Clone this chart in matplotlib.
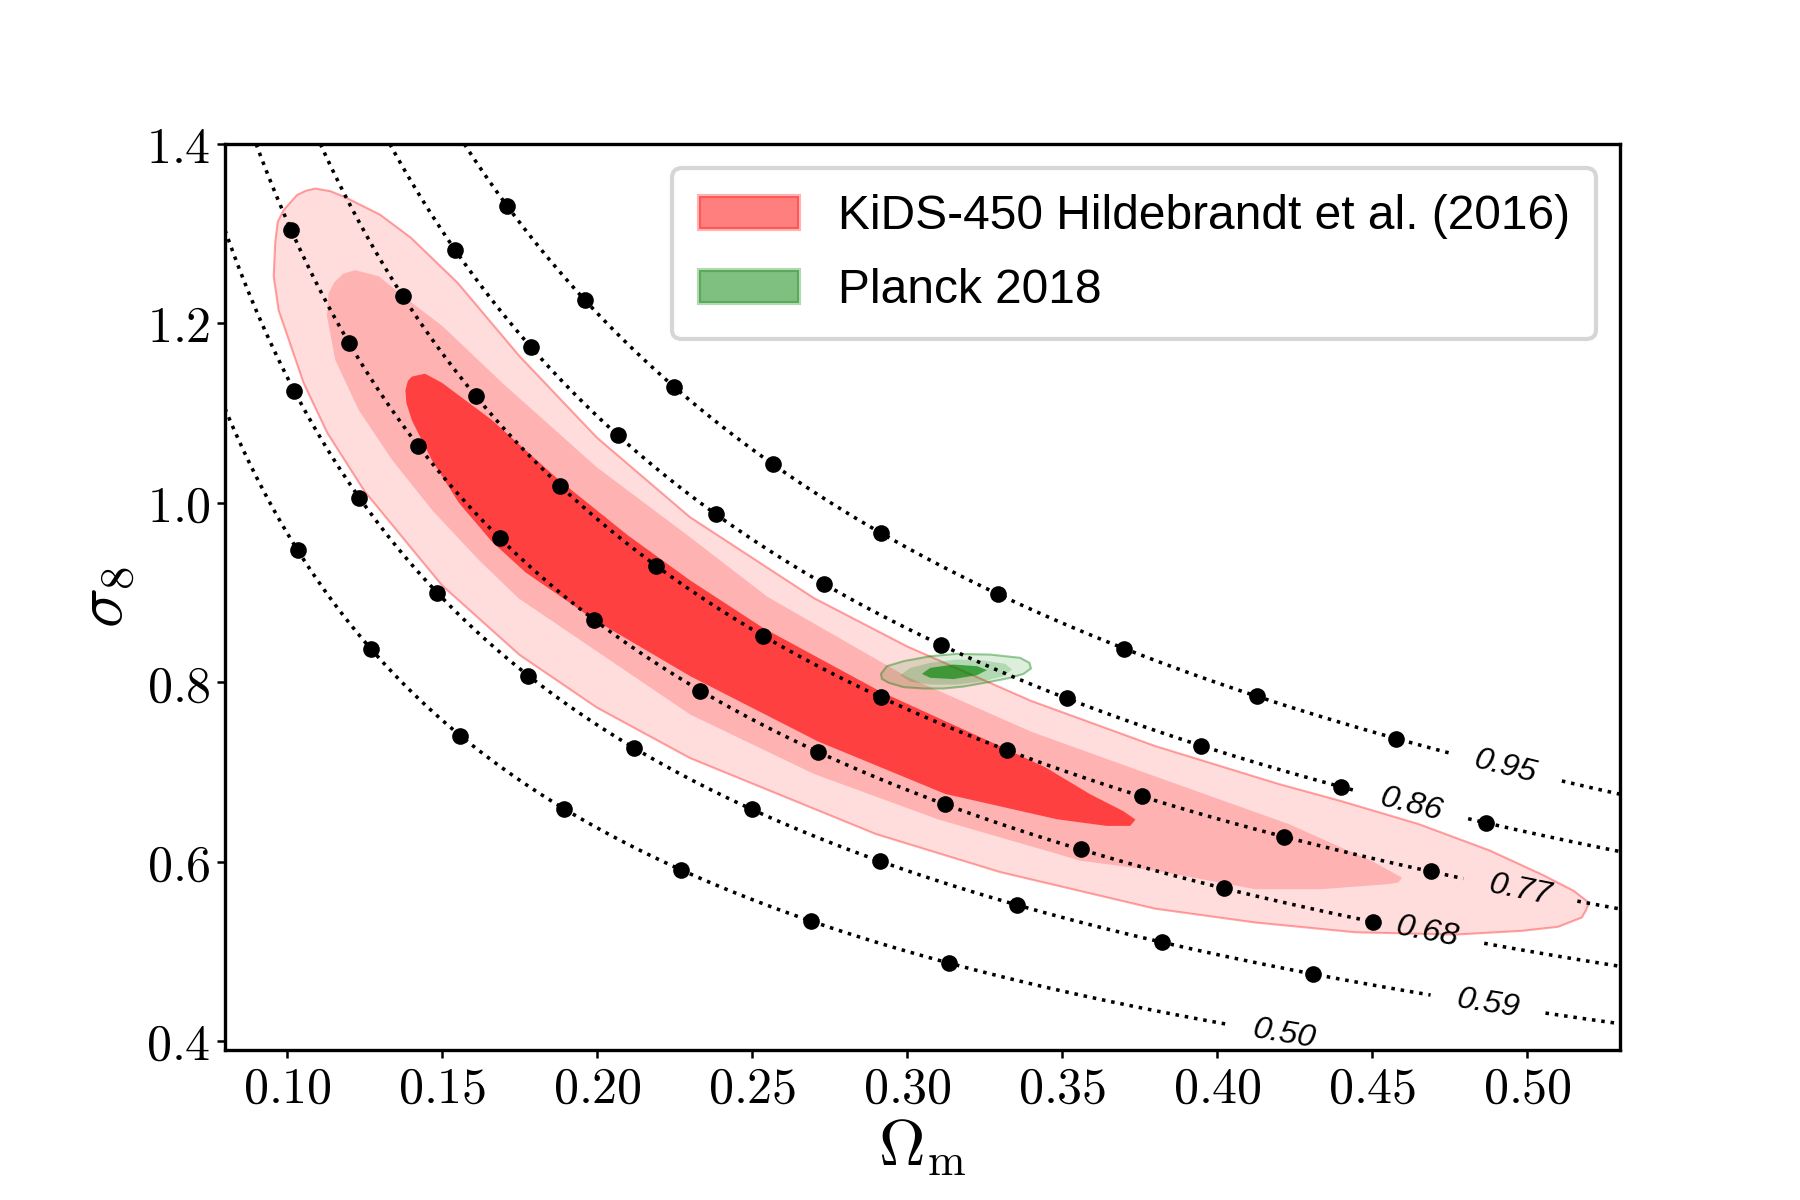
import numpy as np
import matplotlib
matplotlib.use('Agg')
import matplotlib.pyplot as plt
from matplotlib.patches import Patch
from matplotlib.ticker import FuncFormatter

plt.rcParams['mathtext.fontset'] = 'cm'

# iso-S8 lines: S8 = sigma8 * (Om/0.3)^alpha
s8_levels = [0.50, 0.59, 0.68, 0.77, 0.86, 0.95]
s8_alpha = 0.6

# black dots along each S8 line (Omega_m positions)
dots_050 = [0.1035, 0.1272, 0.1559, 0.1894, 0.2272, 0.2689, 0.3137]
dots_059 = [0.1024, 0.1233, 0.1485, 0.1779, 0.2119, 0.2499, 0.2912, 0.3355, 0.3822, 0.4311]
dots_068 = [0.1014, 0.1201, 0.1424, 0.1687, 0.1990, 0.2333, 0.2712, 0.3123, 0.3560, 0.4021, 0.4502]
dots_077 = [0.1373, 0.1610, 0.1882, 0.2191, 0.2535, 0.2915, 0.3323, 0.3758, 0.4215, 0.4689]
dots_086 = [0.1543, 0.1788, 0.2068, 0.2383, 0.2731, 0.3110, 0.3515, 0.3948, 0.4400, 0.4869]
dots_095 = [0.1710, 0.1962, 0.2249, 0.2568, 0.2917, 0.3295, 0.3701, 0.4130, 0.4578]

# label positions of the S8 lines (Omega_m, sigma8)
label_pos = [(0.4218, 0.408), (0.4876, 0.445), (0.468, 0.525),
             (0.498, 0.571), (0.463, 0.666), (0.493, 0.705)]

# KiDS-450 contours, boundary given as (Omega_m, S8)
kids_outer_om = [0.0962, 0.0970, 0.0989, 0.1032, 0.1060, 0.1091, 0.1140, 0.1188, 0.130, 0.140,
                 0.155, 0.175, 0.200, 0.230, 0.270, 0.300, 0.340, 0.380, 0.420, 0.440, 0.465,
                 0.488, 0.505, 0.515, 0.520, 0.519, 0.5177, 0.510, 0.4984, 0.4769, 0.4446,
                 0.4123, 0.380, 0.330, 0.290, 0.230, 0.200, 0.175, 0.150, 0.125, 0.113,
                 0.1054, 0.0973, 0.0957]
kids_outer_s8 = [0.652, 0.667, 0.6815, 0.708, 0.722, 0.736, 0.754, 0.769, 0.800, 0.820,
                 0.838, 0.842, 0.841, 0.839, 0.839, 0.840, 0.840, 0.840, 0.840, 0.840, 0.835,
                 0.820, 0.800, 0.785, 0.771, 0.758, 0.746, 0.725, 0.709, 0.685, 0.660,
                 0.644, 0.631, 0.623, 0.618, 0.610, 0.605, 0.601, 0.599, 0.599, 0.600,
                 0.605, 0.618, 0.631]

kids_mid_om = [0.1156, 0.1129, 0.1134, 0.1153, 0.1182, 0.1220, 0.1296, 0.1373, 0.150, 0.170,
               0.200, 0.230, 0.255, 0.300, 0.340, 0.380, 0.4231, 0.440, 0.450, 0.4597,
               0.4585, 0.4554, 0.4339, 0.4124, 0.380, 0.356, 0.310, 0.270, 0.2301, 0.1747,
               0.1618, 0.1468, 0.1339, 0.1231]
kids_mid_s8 = [0.654, 0.672, 0.688, 0.702, 0.718, 0.734, 0.757, 0.770, 0.790, 0.805,
               0.815, 0.820, 0.812, 0.806, 0.803, 0.801, 0.789, 0.775, 0.766, 0.752,
               0.744, 0.7386, 0.7104, 0.689, 0.680, 0.666, 0.660, 0.655, 0.6515, 0.646,
               0.6466, 0.646, 0.6458, 0.6467]

kids_in_om = [0.1382, 0.1390, 0.1403, 0.1445, 0.150, 0.166, 0.1876, 0.210, 0.230, 0.2535,
              0.2915, 0.3323, 0.345, 0.3591, 0.3698, 0.3737, 0.372, 0.3644, 0.3484, 0.3123,
              0.2712, 0.2301, 0.1990, 0.1769, 0.1661, 0.1554, 0.1468, 0.1403, 0.1385]
kids_in_s8 = [0.707, 0.716, 0.723, 0.738, 0.748, 0.766, 0.774, 0.778, 0.779, 0.778,
              0.776, 0.771, 0.766, 0.752, 0.744, 0.738, 0.728, 0.719, 0.708, 0.692,
              0.691, 0.688, 0.680, 0.672, 0.671, 0.674, 0.682, 0.692, 0.699]

# Planck 2018 contours (Omega_m, sigma8)
planck_outer_om = [0.2916, 0.2935, 0.2989, 0.3075, 0.3161, 0.3269, 0.3365, 0.3395, 0.3400,
                   0.3376, 0.3333, 0.3269, 0.3183, 0.3118, 0.3054, 0.2989, 0.2941, 0.2919]
planck_outer_s8 = [0.8093, 0.8179, 0.8235, 0.8290, 0.8316, 0.8308, 0.8272, 0.8216, 0.8153,
                   0.8093, 0.8049, 0.8005, 0.7952, 0.7930, 0.7930, 0.7945, 0.7993, 0.8037]
planck_mid_om = [0.2978, 0.3011, 0.3075, 0.3161, 0.3247, 0.3317, 0.3339, 0.3312, 0.3247,
                 0.3161, 0.3075, 0.3011]
planck_mid_s8 = [0.8079, 0.8160, 0.8216, 0.8253, 0.8242, 0.8205, 0.8141, 0.8068, 0.8012,
                 0.7974, 0.7974, 0.8005]
planck_in_om = [0.3048, 0.3075, 0.3150, 0.3226, 0.3258, 0.3226, 0.3150, 0.3075]
planck_in_s8 = [0.8093, 0.8160, 0.8197, 0.8179, 0.8135, 0.8079, 0.8035, 0.8049]


def to_sigma8(om, s8):
    return np.asarray(s8) * (np.asarray(om) / 0.3) ** (-s8_alpha)


fig, ax = plt.subplots(figsize=(6, 4), dpi=300)
fig.subplots_adjust(left=0.125, right=0.9, top=0.88, bottom=0.125)

# KiDS
ax.fill(kids_outer_om, to_sigma8(kids_outer_om, kids_outer_s8), facecolor='#ffdddd',
        edgecolor=(1, 0, 0, 0.35), lw=0.5, joinstyle='round', zorder=1)
ax.fill(kids_mid_om, to_sigma8(kids_mid_om, kids_mid_s8), facecolor='#ffb2b2',
        edgecolor='none', zorder=2)
ax.fill(kids_in_om, to_sigma8(kids_in_om, kids_in_s8), facecolor='#ff4040',
        edgecolor='none', zorder=3)

# Planck
ax.fill(planck_outer_om, planck_outer_s8, facecolor=(0, 0.5, 0, 0.133),
        edgecolor=(0, 0.5, 0, 0.4), lw=0.5, zorder=4)
ax.fill(planck_mid_om, planck_mid_s8, facecolor=(0, 0.5, 0, 0.19), edgecolor='none', zorder=4)
ax.fill(planck_in_om, planck_in_s8, facecolor=(0, 0.5, 0, 0.64), edgecolor='none', zorder=4)

# S8 lines
om_grid = np.linspace(0.08, 0.53, 500)
sig_grid = np.linspace(0.40, 1.40, 500)
OM, SIG = np.meshgrid(om_grid, sig_grid)
S8 = SIG * (OM / 0.3) ** s8_alpha
cs = ax.contour(OM, SIG, S8, levels=s8_levels, colors='k', linestyles=':',
                linewidths=0.85, zorder=5)
labels = ax.clabel(cs, fmt='%.2f', manual=label_pos, inline=True,
                   inline_spacing=22, fontsize=7.8)
for t in labels:
    t.set_fontstyle('italic')
    t.set_family('Liberation Sans')

for lev, pts in zip(s8_levels, [dots_050, dots_059, dots_068, dots_077, dots_086, dots_095]):
    ax.plot(pts, to_sigma8(pts, lev), 'o', color='k', ms=4.0, mew=0, zorder=6)

ax.set_xlim(0.08, 0.53)
ax.set_ylim(0.39, 1.40)
ax.set_xticks(np.arange(0.10, 0.501, 0.05))
ax.set_yticks(np.arange(0.4, 1.401, 0.2))
ax.xaxis.set_major_formatter(FuncFormatter(lambda v, p: f'${v:.2f}$'))
ax.yaxis.set_major_formatter(FuncFormatter(lambda v, p: f'${v:.1f}$'))
ax.tick_params(labelsize=12, length=2, width=0.6, pad=1.5)

ax.set_xlabel(r'$\Omega_{\rm m}$', fontsize=15.5, labelpad=0.5)
ax.set_ylabel(r'$\sigma_8$', fontsize=16, labelpad=2)

handles = [Patch(facecolor=(1, 0, 0, 0.5), edgecolor=(1, 0, 0, 0.3),
                 label='KiDS-450 Hildebrandt et al. (2016)'),
           Patch(facecolor=(0, 0.5, 0, 0.5), edgecolor=(0, 0.5, 0, 0.3),
                 label='Planck 2018')]
ax.legend(handles=handles, loc='upper right', prop={'family': 'Liberation Sans', 'size': 11.5},
          handlelength=2.1, labelspacing=0.6, borderpad=0.55)

plt.savefig('out.png', dpi=300)
